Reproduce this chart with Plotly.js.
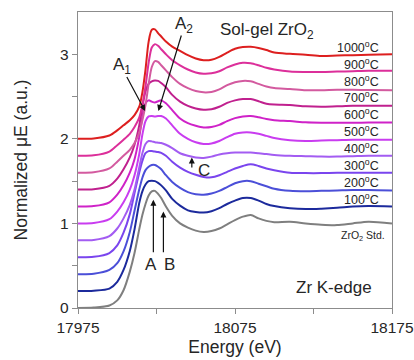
<!DOCTYPE html>
<html>
<head>
<meta charset="utf-8">
<script src="https://cdn.plot.ly/plotly-3.0.1.min.js"></script>
<style>html,body{margin:0;padding:0;background:#fff;}#chart{width:414px;height:360px;}</style>
</head>
<body>
<div id="chart"></div>
<script>
// Energy grid (eV)
const energy = [17975, 17985, 17995, 18000, 18004, 18008, 18011, 18014, 18016, 18018, 18020, 18022, 18024, 18026, 18028, 18031, 18035, 18040, 18045, 18050, 18055, 18060, 18065, 18070, 18075, 18080, 18085, 18090, 18095, 18100, 18110, 18120, 18130, 18140, 18150, 18160, 18175];

// Normalized mu(E) of each spectrum (before vertical stacking offset)
const muStd  = [0, 0.005, 0.03, 0.09, 0.21, 0.43, 0.65, 0.93, 1.10, 1.23, 1.33, 1.38, 1.385, 1.35, 1.30, 1.20, 1.09, 1.00, 0.95, 0.915, 0.90, 0.91, 0.94, 0.99, 1.04, 1.08, 1.10, 1.06, 1.03, 1.015, 1.02, 1.00, 0.985, 0.98, 1.00, 1.02, 1.00];
const mu100  = [0, 0.005, 0.03, 0.11, 0.25, 0.475, 0.73, 1.04, 1.18, 1.26, 1.30, 1.305, 1.30, 1.28, 1.25, 1.19, 1.09, 1.01, 0.955, 0.935, 0.928, 0.945, 0.98, 1.03, 1.07, 1.10, 1.10, 1.07, 1.03, 1.005, 0.98, 0.97, 0.975, 0.985, 1.0, 1.005, 1.0];
const mu200  = [0, 0.005, 0.05, 0.13, 0.27, 0.50, 0.75, 1.00, 1.14, 1.23, 1.27, 1.29, 1.29, 1.27, 1.24, 1.17, 1.09, 1.02, 0.97, 0.945, 0.94, 0.955, 0.985, 1.03, 1.075, 1.10, 1.10, 1.07, 1.04, 1.01, 0.985, 0.98, 0.985, 0.99, 0.995, 0.995, 0.99];
const mu300  = [0, 0.005, 0.05, 0.14, 0.29, 0.51, 0.76, 1.00, 1.14, 1.23, 1.255, 1.255, 1.25, 1.245, 1.235, 1.20, 1.13, 1.06, 1.01, 0.975, 0.95, 0.945, 0.97, 1.01, 1.05, 1.08, 1.10, 1.08, 1.05, 1.03, 1.0, 0.995, 0.995, 1.0, 1.0, 1.0, 1.0];
const mu400  = [0, 0.005, 0.05, 0.14, 0.26, 0.42, 0.60, 0.86, 1.03, 1.14, 1.175, 1.17, 1.16, 1.155, 1.15, 1.13, 1.09, 1.03, 1.00, 0.98, 0.975, 0.99, 1.015, 1.03, 1.038, 1.04, 1.038, 1.03, 1.02, 1.01, 1.0, 0.995, 0.99, 0.99, 0.995, 1.0, 1.0];
const mu500  = [0, 0.005, 0.05, 0.14, 0.25, 0.40, 0.57, 0.82, 1.05, 1.21, 1.265, 1.27, 1.265, 1.27, 1.27, 1.24, 1.16, 1.06, 1.00, 0.96, 0.94, 0.945, 0.975, 1.02, 1.06, 1.075, 1.075, 1.06, 1.035, 1.01, 0.985, 0.976, 0.98, 0.985, 0.99, 0.99, 0.988];
const mu600  = [0, 0.005, 0.05, 0.14, 0.25, 0.40, 0.56, 0.82, 1.06, 1.22, 1.255, 1.24, 1.23, 1.245, 1.255, 1.22, 1.14, 1.04, 0.985, 0.955, 0.935, 0.94, 0.965, 1.01, 1.045, 1.065, 1.07, 1.055, 1.035, 1.02, 1.01, 0.995, 0.99, 0.99, 0.99, 0.993, 0.993];
const mu700  = [0, 0.005, 0.045, 0.13, 0.24, 0.38, 0.53, 0.76, 0.98, 1.16, 1.25, 1.28, 1.29, 1.285, 1.26, 1.21, 1.12, 1.04, 0.99, 0.96, 0.945, 0.95, 0.98, 1.025, 1.055, 1.07, 1.07, 1.045, 1.015, 1.005, 1.0, 0.985, 0.98, 0.985, 0.99, 0.99, 0.99];
const mu800  = [0, 0.005, 0.05, 0.13, 0.20, 0.27, 0.35, 0.47, 0.62, 0.80, 1.05, 1.25, 1.32, 1.31, 1.27, 1.21, 1.13, 1.05, 1.00, 0.965, 0.95, 0.955, 0.985, 1.035, 1.07, 1.085, 1.08, 1.05, 1.02, 1.0, 0.99, 0.975, 0.975, 0.98, 0.98, 0.978, 0.976];
const mu900  = [0, 0.005, 0.05, 0.125, 0.19, 0.26, 0.34, 0.45, 0.60, 0.82, 1.10, 1.28, 1.32, 1.30, 1.26, 1.20, 1.13, 1.07, 1.02, 0.985, 0.97, 0.975, 1.0, 1.045, 1.08, 1.10, 1.095, 1.07, 1.04, 1.02, 0.995, 0.99, 0.99, 0.995, 1.0, 1.005, 1.005];
const mu1000 = [0, 0.005, 0.04, 0.10, 0.16, 0.22, 0.28, 0.38, 0.55, 0.82, 1.15, 1.29, 1.295, 1.25, 1.21, 1.15, 1.09, 1.04, 0.99, 0.95, 0.93, 0.935, 0.97, 1.02, 1.065, 1.085, 1.089, 1.075, 1.05, 1.02, 1.005, 0.995, 0.98, 0.985, 0.99, 0.995, 1.0];

const seriesNames = ['ZrO<sub>2</sub> Std.', '100<sup>o</sup>C', '200<sup>o</sup>C', '300<sup>o</sup>C', '400<sup>o</sup>C', '500<sup>o</sup>C', '600<sup>o</sup>C', '700<sup>o</sup>C', '800<sup>o</sup>C', '900<sup>o</sup>C', '1000<sup>o</sup>C'];
const stackOffsets = [0, 0.2, 0.4, 0.6, 0.8, 1.0, 1.2, 1.4, 1.6, 1.8, 2.0];
const seriesValues = [muStd, mu100, mu200, mu300, mu400, mu500, mu600, mu700, mu800, mu900, mu1000];
const seriesColors = ['#7f7f7f', '#1c2a9c', '#4b4fd8', '#7a45ee', '#a35cf2', '#c93cf0', '#cf22c8', '#c0208e', '#d35a9f', '#dc2f9a', '#dd1f1f'];

const xTickVals = [17975, 18025, 18075, 18125, 18175];
const xTickText = ['17975', '', '18075', '', '18175'];
const yTickVals = [0, 0.5, 1, 1.5, 2, 2.5, 3];
const yTickText = ['0', '', '1', '', '2', '', '3'];

const FONT = 'Liberation Sans, Arial, sans-serif';
const TXT = '#262626';

const traces = seriesValues.map((vals, i) => ({
  x: energy,
  y: vals.map(v => v + stackOffsets[i]),
  type: 'scatter',
  mode: 'lines',
  name: seriesNames[i],
  line: {color: seriesColors[i], width: 2, shape: 'spline', smoothing: 0.8},
  hoverinfo: 'skip'
}));

const annotations = [];
// series labels at right
seriesNames.forEach((nm, i) => {
  const isStd = i === 0;
  annotations.push({
    x: isStd ? 18172 : 18168, y: isStd ? 0.85 : stackOffsets[i] + 1.09,
    xref: 'x', yref: 'y', text: nm, showarrow: false,
    xanchor: 'right', yanchor: 'middle',
    font: {family: FONT, size: isStd ? 10.5 : 12.5, color: TXT}
  });
});
// arrows
const arrows = [
  {x: 18017.7, y: 2.33, ax: 18005.6, ay: 2.75},
  {x: 18026.2, y: 2.33, ax: 18041.1, ay: 3.24},
  {x: 18023.0, y: 1.28, ax: 18023.0, ay: 0.64},
  {x: 18029.4, y: 1.14, ax: 18029.4, ay: 0.64},
  {x: 18047.5, y: 1.78, ax: 18047.5, ay: 1.645}
];
arrows.forEach(a => annotations.push({
  x: a.x, y: a.y, ax: a.ax, ay: a.ay, xref: 'x', yref: 'y', axref: 'x', ayref: 'y',
  text: '', showarrow: true, arrowhead: 2, arrowsize: 1, arrowwidth: 1.2, arrowcolor: '#111'
}));
const labels = [
  {x: 18003.1, y: 2.86, t: 'A<sub>1</sub>', s: 17},
  {x: 18042.6, y: 3.35, t: 'A<sub>2</sub>', s: 17},
  {x: 18021.2, y: 0.51, t: 'A', s: 17},
  {x: 18033.0, y: 0.51, t: 'B', s: 17},
  {x: 18055.4, y: 1.63, t: 'C', s: 17},
  {x: 18095.5, y: 3.28, t: 'Sol-gel ZrO<sub>2</sub>', s: 17},
  {x: 18138.3, y: 0.24, t: 'Zr K-edge', s: 17}
];
labels.forEach(l => annotations.push({
  x: l.x, y: l.y, xref: 'x', yref: 'y', text: l.t, showarrow: false,
  xanchor: 'center', yanchor: 'middle', font: {family: FONT, size: l.s, color: TXT}
}));

const layout = {
  width: 414, height: 360,
  margin: {l: 78, r: 22, t: 12, b: 52},
  paper_bgcolor: '#fff', plot_bgcolor: '#fff',
  showlegend: false,
  font: {family: FONT, color: TXT},
  xaxis: {
    range: [17975, 18175], showgrid: false, zeroline: false,
    showline: true, linecolor: '#8c8c8c', linewidth: 1.2, mirror: true,
    ticks: 'outside', ticklen: 5, tickcolor: '#8c8c8c',
    tickmode: 'array', tickvals: xTickVals, ticktext: xTickText,
    tickfont: {size: 15.5, family: FONT, color: TXT},
    title: {text: 'Energy (eV)', font: {size: 17.5, family: FONT, color: TXT}, standoff: 6}
  },
  yaxis: {
    range: [0, 3.5], showgrid: false, zeroline: false,
    showline: true, linecolor: '#8c8c8c', linewidth: 1.2, mirror: true,
    ticks: 'outside', ticklen: 5, tickcolor: '#8c8c8c',
    tickmode: 'array', tickvals: yTickVals, ticktext: yTickText,
    tickfont: {size: 15.5, family: FONT, color: TXT},
    title: {text: 'Normalized \u03bcE (a.u.)', font: {size: 17.5, family: FONT, color: TXT}, standoff: 28}
  },
  annotations: annotations
};

Plotly.newPlot('chart', traces, layout, {displayModeBar: false, staticPlot: true});
</script>
</body>
</html>
